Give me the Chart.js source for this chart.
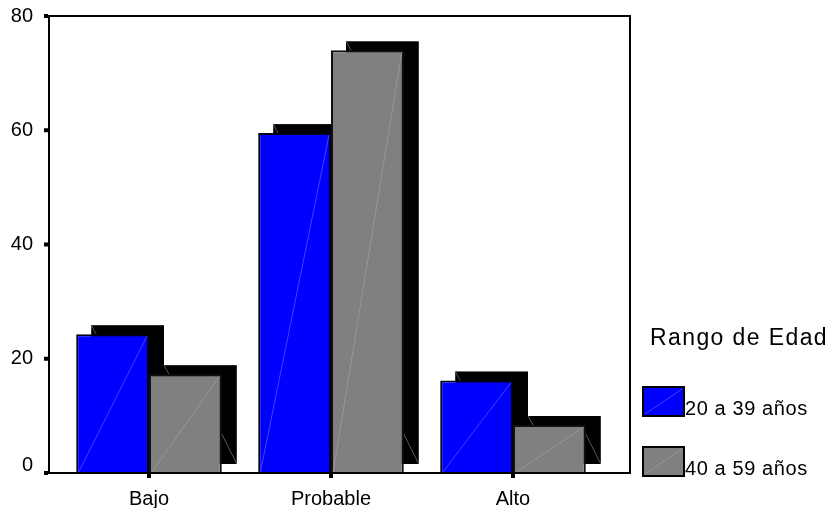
<!DOCTYPE html>
<html>
<head>
<meta charset="utf-8">
<script src="https://cdn.jsdelivr.net/npm/chart.js@4.4.1/dist/chart.umd.min.js"></script>
<style>
  html, body { margin: 0; padding: 0; background: #ffffff; }
  #wrap { width: 835px; height: 508px; position: relative; }
</style>
</head>
<body>
<div id="wrap"><canvas id="chart" width="835" height="508"></canvas></div>
<script>
// Categories and per-age-group percentages
const categories = ['Bajo', 'Probable', 'Alto'];
const seriesNames = ['20 a 39 años', '40 a 59 años'];
const edad20a39 = [24.3, 59.5, 16.2];
const edad40a59 = [17.3, 74.0, 8.4];
const yTicks = [0, 20, 40, 60, 80];
const legendTitle = 'Rango de Edad';

const FONT = '"Liberation Sans", Arial, sans-serif';
const fills = ['#0000ff', '#808080'];
const diagonals = ['#5c5cff', '#a0a0a0'];
const DEPTH_X = 15, DEPTH_Y = 9;      // offset of the extruded back face
const FRAME_LEFT = 9, FRAME_RIGHT = 26; // frame extends past the category band

function barRect(el) {
  const p = el.getProps(['x', 'y', 'base', 'width'], true);
  return { left: p.x - p.width / 2, right: p.x + p.width / 2, top: Math.min(p.y, p.base), bottom: Math.max(p.y, p.base) };
}

// Black back faces behind every bar, with faint inner edges
const depthPlugin = {
  id: 'depth',
  beforeDatasetsDraw(chart) {
    const ctx = chart.ctx;
    ctx.save();
    chart.data.datasets.forEach((ds, i) => {
      chart.getDatasetMeta(i).data.forEach(el => {
        const r = barRect(el);
        ctx.fillStyle = '#000000';
        ctx.fillRect(r.left + DEPTH_X, r.top - DEPTH_Y, r.right - r.left, r.bottom - r.top);
        ctx.strokeStyle = '#6e6e6e';
        ctx.lineWidth = 0.8;
        ctx.beginPath();
        ctx.moveTo(r.left + DEPTH_X, r.top - DEPTH_Y);
        ctx.lineTo(r.left + DEPTH_X + 5, r.top);
        const h = Math.min(30, r.bottom - r.top);
        ctx.moveTo(r.right, r.bottom - DEPTH_Y - h);
        ctx.lineTo(r.right + DEPTH_X, r.bottom - DEPTH_Y);
        ctx.stroke();
      });
    });
    ctx.restore();
  },
  afterDatasetsDraw(chart) {
    const ctx = chart.ctx;
    ctx.save();
    chart.data.datasets.forEach((ds, i) => {
      chart.getDatasetMeta(i).data.forEach(el => {
        const r = barRect(el);
        ctx.strokeStyle = diagonals[i];
        ctx.lineWidth = 0.7;
        ctx.beginPath();
        ctx.moveTo(r.left + 2, r.bottom);
        ctx.lineTo(r.right - 2, r.top + 2);
        ctx.stroke();
      });
    });
    ctx.restore();
  }
};

// Plot frame with small square tick marks
const framePlugin = {
  id: 'frame',
  afterDatasetsDraw(chart) {
    const ctx = chart.ctx;
    const a = chart.chartArea;
    const left = a.left - FRAME_LEFT, right = a.right + FRAME_RIGHT;
    ctx.save();
    ctx.strokeStyle = '#000000';
    ctx.lineWidth = 2;
    ctx.strokeRect(left, a.top, right - left, a.bottom - a.top);
    ctx.fillStyle = '#000000';
    const ys = chart.scales.y;
    ys.ticks.forEach(t => {
      const py = ys.getPixelForValue(t.value);
      ctx.fillRect(left - 5, py - 2, 4, 4);
    });
    const xs = chart.scales.x;
    categories.forEach((c, i) => {
      const px = xs.getPixelForValue(i);
      ctx.fillRect(px - 2, a.bottom + 1, 4, 4);
    });
    ctx.restore();
  }
};

// Legend on the right: title and one swatch per age group
const legendPlugin = {
  id: 'sideLegend',
  afterDraw(chart) {
    const ctx = chart.ctx;
    ctx.save();
    ctx.fillStyle = '#000000';
    ctx.textBaseline = 'alphabetic';
    ctx.font = '23px ' + FONT;
    ctx.letterSpacing = '1.4px';
    ctx.fillText(legendTitle, 650, 345);
    ctx.font = '20px ' + FONT;
    ctx.letterSpacing = '0.6px';
    chart.data.datasets.forEach((ds, i) => {
      const bx = 643, by = 387 + i * 60, bw = 41, bh = 29;
      ctx.fillStyle = fills[i];
      ctx.fillRect(bx, by, bw, bh);
      ctx.strokeStyle = diagonals[i];
      ctx.lineWidth = 0.7;
      ctx.beginPath();
      ctx.moveTo(bx + 2, by + bh - 2);
      ctx.lineTo(bx + bw - 2, by + 2);
      ctx.stroke();
      ctx.strokeStyle = '#000000';
      ctx.lineWidth = 2;
      ctx.strokeRect(bx, by, bw, bh);
      ctx.fillStyle = '#000000';
      ctx.fillText(ds.label, bx + bw + 1, by + 28);
    });
    ctx.restore();
  }
};

new Chart(document.getElementById('chart'), {
  type: 'bar',
  data: {
    labels: categories,
    datasets: [
      { label: seriesNames[0], data: edad20a39, backgroundColor: fills[0], borderColor: '#00001a', borderWidth: 2 },
      { label: seriesNames[1], data: edad40a59, backgroundColor: fills[1], borderColor: '#111111', borderWidth: 2 }
    ]
  },
  options: {
    responsive: false,
    devicePixelRatio: 1,
    animation: false,
    datasets: { bar: { categoryPercentage: 0.8, barPercentage: 1.0 } },
    layout: { padding: { top: 16, right: 231, left: 0, bottom: 0 } },
    plugins: { legend: { display: false }, tooltip: { enabled: false } },
    scales: {
      x: {
        type: 'category',
        offset: true,
        grid: { display: false, drawTicks: false },
        border: { display: false },
        ticks: { color: '#000000', font: { family: FONT, size: 20 }, padding: 14, maxRotation: 0 },
        afterFit: s => { s.height = 35; s.paddingLeft = 0; s.paddingRight = 0; }
      },
      y: {
        min: 0,
        max: 80,
        afterBuildTicks: s => { s.ticks = yTicks.map(v => ({ value: v })); },
        grid: { display: false, drawTicks: false },
        border: { display: false },
        ticks: {
          color: '#000000',
          font: { family: FONT, size: 20, lineHeight: 0.8 },
          padding: 25,
          callback: v => (v === 0 ? ['0', ''] : String(v))
        },
        afterFit: s => { s.width = 58; s.paddingTop = 0; s.paddingBottom = 0; }
      }
    }
  },
  plugins: [depthPlugin, framePlugin, legendPlugin]
});
</script>
</body>
</html>
